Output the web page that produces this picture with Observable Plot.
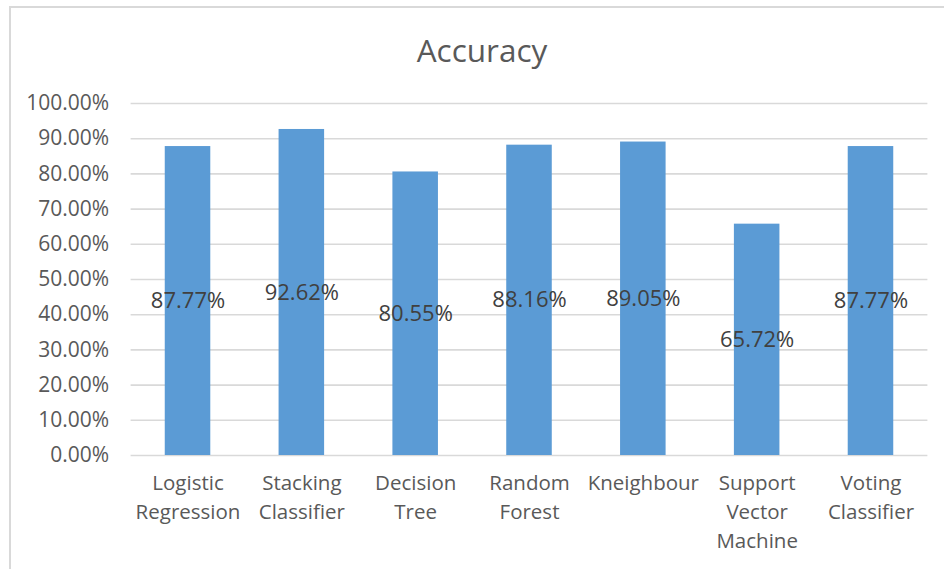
<!DOCTYPE html>
<html>
<head>
<meta charset="utf-8">
<script src="https://cdn.jsdelivr.net/npm/d3@7"></script>
<script src="https://cdn.jsdelivr.net/npm/@observablehq/plot@0.6"></script>
<style>
  html, body { margin: 0; padding: 0; background: #fff; }
  body { width: 944px; height: 569px; overflow: hidden; position: relative; font-family: "Open Sans", sans-serif; }
  #frame { position: absolute; left: 9px; top: 6px; width: 960px; height: 600px; border: 2px solid #d9d9d9; box-sizing: border-box; }
  #title { position: absolute; left: 0; width: 964px; top: 28px; text-align: center; font-size: 31.5px; color: #595959; line-height: 44px; }
  #chart { position: absolute; left: 0; top: 0; }
</style>
</head>
<body>
<div id="frame"></div>
<div id="title">Accuracy</div>
<div id="chart"></div>
<script>
const models = ["Logistic Regression", "Stacking Classifier", "Decision Tree", "Random Forest", "Kneighbour", "Support Vector Machine", "Voting Classifier"];
const accuracy = [0.8777, 0.9262, 0.8055, 0.8816, 0.8905, 0.6572, 0.8777];
const yTicks = [0, 0.1, 0.2, 0.3, 0.4, 0.5, 0.6, 0.7, 0.8, 0.9, 1.0];

const data = models.map((m, i) => ({model: m, value: accuracy[i]}));
const pct = d3.format(".2%");

const plot = Plot.plot({
  width: 944,
  height: 569,
  marginTop: 103,
  marginBottom: 114,
  marginLeft: 130.6,
  marginRight: 16.6,
  style: {fontFamily: "Open Sans, sans-serif", fontSize: "20px", color: "#595959", background: "transparent"},
  x: {domain: models, paddingInner: 0.6, paddingOuter: 0.3, round: false, label: null},
  y: {domain: [0, 1], label: null},
  marks: [
    Plot.ruleY(yTicks, {stroke: "#d9d9d9", strokeWidth: 1.6}),
    Plot.barY(data, {x: "model", y: "value", fill: "#5b9bd5"}),
    Plot.axisY({ticks: yTicks, tickFormat: pct, tickSize: 0, tickPadding: 22, fontSize: 21, fill: "#595959", label: null}),
    Plot.axisX({tickSize: 0, tickPadding: 14, fontSize: 20.5, fill: "#595959", lineHeight: 1.42, tickFormat: d => d.split(" ").join("\n"), label: null}),
    Plot.text(data, {x: "model", y: d => d.value / 2, text: d => pct(d.value), fill: "#404040", fontSize: 22})
  ]
});
document.getElementById("chart").appendChild(plot);
</script>
</body>
</html>
